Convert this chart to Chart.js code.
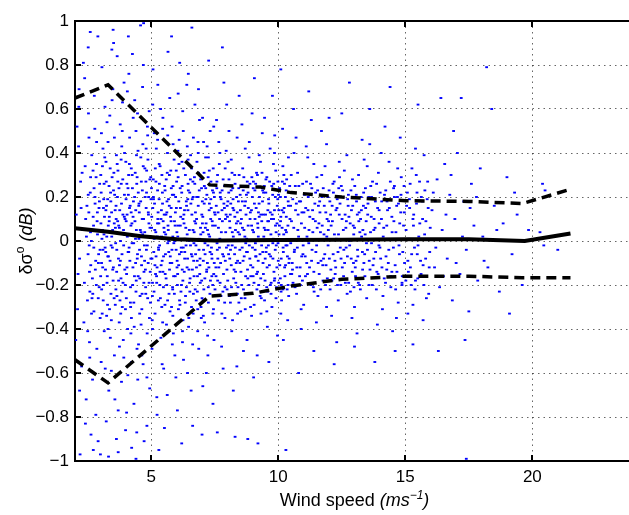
<!DOCTYPE html>
<html>
<head>
<meta charset="utf-8">
<script src="https://cdn.jsdelivr.net/npm/chart.js@4.4.1/dist/chart.umd.min.js"></script>
<style>
  html, body { margin: 0; padding: 0; background: #fff; overflow: hidden; }
  #wrap { width: 640px; height: 515px; }
</style>
</head>
<body>
<div id="wrap"><canvas id="windChart" width="640" height="515"></canvas></div>
<script>
// Axis ticks
const xTicks = [5, 10, 15, 20];
const yTicks = [-1, -0.8, -0.6, -0.4, -0.2, 0, 0.2, 0.4, 0.6, 0.8, 1];
const yTickLabels = ['\u22121', '\u22120.8', '\u22120.6', '\u22120.4', '\u22120.2', '0', '0.2', '0.4', '0.6', '0.8', '1'];

// Binned mean of the bias and its spread envelope
const meanWind = [2, 3.3, 4.6, 6, 7.5, 10, 12.5, 15, 17.5, 19.7, 21.5];
const meanBias = [0.058, 0.042, 0.022, 0.008, 0.002, 0.004, 0.006, 0.008, 0.008, 0.0, 0.034];
const upperWind = [2, 3.3, 7.3, 9.3, 10.5, 12.5, 15, 17.5, 19.6, 21.5];
const upperBias = [0.65, 0.71, 0.255, 0.245, 0.22, 0.2, 0.183, 0.18, 0.17, 0.235];
const lowerWind = [2, 3.3, 7.3, 9, 10.5, 12.5, 15, 17.5, 19.6, 21.5];
const lowerBias = [-0.54, -0.645, -0.25, -0.238, -0.205, -0.174, -0.16, -0.16, -0.167, -0.167];

// Individual collocations, grouped by wind speed band [wind, bias]
const band2to3 = [[2.05,0.12],[2.1,-0.31],[2.14,0.43],[2.18,-0.08],[2.22,0.27],[2.26,-0.57],[2.3,0.05],[2.33,0.81],[2.37,-0.19],[2.4,0.34],[2.44,-0.72],[2.47,0.16],[2.5,-0.41],[2.53,0.58],[2.56,-0.02],[2.6,0.22],[2.63,-0.88],[2.66,0.39],[2.7,-0.24],[2.73,0.07],[2.76,0.66],[2.8,-0.13],[2.83,0.29],[2.86,-0.49],[2.9,0.93],[2.93,-0.06],[2.96,0.18],[2.99,-0.35],[2.08,0.52],[2.12,-0.15],[2.2,-0.97],[2.28,0.31],[2.35,-0.37],[2.42,0.1],[2.49,-0.27],[2.55,0.47],[2.62,-0.11],[2.69,-0.63],[2.75,0.24],[2.82,-0.79],[2.88,0.13],[2.95,-0.21],[2.03,-0.45],[2.16,0.69],[2.45,0.02],[2.58,-0.53],[2.78,0.51],[2.91,-0.91],[2.24,0.15],[2.65,-0.33],[2.6,0.95]];
const band3to5 = [[3.02,0.08],[3.05,-0.22],[3.08,0.34],[3.1,-0.04],[3.13,0.19],[3.15,-0.41],[3.18,0.61],[3.2,-0.13],[3.23,0.27],[3.25,0.02],[3.28,-0.29],[3.3,0.45],[3.33,-0.68],[3.35,0.11],[3.38,-0.09],[3.4,0.22],[3.43,-0.36],[3.45,0.87],[3.48,0.05],[3.5,-0.18],[3.53,0.31],[3.55,-0.52],[3.58,0.14],[3.6,-0.01],[3.63,0.39],[3.65,-0.25],[3.68,0.09],[3.7,-0.77],[3.73,0.24],[3.75,-0.11],[3.78,0.53],[3.8,-0.33],[3.83,0.17],[3.85,-0.06],[3.88,0.28],[3.9,-0.45],[3.93,0.72],[3.95,0.03],[3.98,-0.2],[4.0,0.36],[4.03,-0.15],[4.05,0.12],[4.08,-0.61],[4.1,0.21],[4.13,-0.03],[4.15,0.47],[4.18,-0.28],[4.2,0.07],[4.23,-0.94],[4.25,0.3],[4.28,-0.12],[4.3,0.18],[4.33,-0.39],[4.35,0.64],[4.38,0.01],[4.4,-0.23],[4.43,0.26],[4.45,-0.08],[4.48,0.41],[4.5,-0.47],[4.53,0.13],[4.55,-0.17],[4.58,0.98],[4.6,0.04],[4.63,-0.31],[4.65,0.23],[4.68,-0.56],[4.7,0.1],[4.73,-0.02],[4.75,0.33],[4.78,-0.21],[4.8,0.15],[4.83,-0.84],[4.85,0.52],[4.88,-0.1],[4.9,0.2],[4.93,-0.35],[4.95,0.06],[4.98,0.29],
  [3.04,0.49],[3.09,-0.12],[3.14,0.03],[3.19,-0.58],[3.24,0.16],[3.29,-0.07],[3.34,0.25],[3.39,-0.44],[3.44,0.13],[3.49,0.69],[3.54,-0.26],[3.59,0.06],[3.64,-0.14],[3.69,0.32],[3.74,-0.37],[3.79,0.0],[3.84,0.43],[3.89,-0.19],[3.94,0.11],[3.99,-0.86],[4.04,0.26],[4.09,-0.05],[4.14,0.35],[4.19,-0.3],[4.24,0.08],[4.29,0.56],[4.34,-0.16],[4.39,0.14],[4.44,-0.49],[4.49,0.22],[4.54,-0.04],[4.59,0.38],[4.64,-0.24],[4.69,0.8],[4.74,-0.09],[4.79,0.27],[4.84,-0.42],[4.89,0.12],[4.94,-0.67],[4.99,0.19],
  [3.07,-0.33],[3.17,0.38],[3.27,-0.16],[3.37,0.57],[3.47,-0.03],[3.57,-0.72],[3.67,0.2],[3.77,-0.27],[3.87,0.63],[3.97,0.1],[4.07,-0.4],[4.17,0.16],[4.27,-0.2],[4.37,0.31],[4.47,-0.63],[4.57,0.05],[4.67,0.44],[4.77,-0.13],[4.87,0.37],[4.97,-0.28],[3.12,0.15],[3.32,-0.98],[3.52,0.9],[3.72,0.07],[3.92,-0.53],[4.12,0.76],[4.32,-0.74],[4.52,0.17],[4.72,-0.91],[4.92,0.59],
  [3.5,0.96],[4.7,0.99],[4.1,0.93],[3.0,-0.97],[3.7,-0.96],[4.4,-0.99]];
const band5to7 = [[5.02,0.11],[5.05,-0.19],[5.08,0.28],[5.1,-0.05],[5.13,0.17],[5.15,-0.33],[5.18,0.04],[5.2,0.42],[5.23,-0.12],[5.25,0.23],[5.28,-0.27],[5.3,0.08],[5.33,-0.02],[5.35,0.34],[5.38,-0.44],[5.4,0.14],[5.43,-0.09],[5.45,0.51],[5.48,-0.21],[5.5,0.06],[5.53,0.25],[5.55,-0.15],[5.58,0.12],[5.6,-0.38],[5.63,0.31],[5.65,-0.01],[5.68,0.19],[5.7,-0.24],[5.73,0.65],[5.75,-0.07],[5.78,0.09],[5.8,-0.3],[5.83,0.21],[5.85,0.02],[5.88,-0.16],[5.9,0.37],[5.93,-0.52],[5.95,0.13],[5.98,-0.04],[6.0,0.27],
  [6.03,-0.2],[6.05,0.07],[6.08,-0.11],[6.1,0.46],[6.13,-0.29],[6.15,0.15],[6.18,-0.03],[6.2,0.22],[6.23,-0.41],[6.25,0.1],[6.28,0.33],[6.3,-0.14],[6.33,0.01],[6.35,-0.25],[6.38,0.18],[6.4,0.71],[6.43,-0.08],[6.45,0.26],[6.48,-0.35],[6.5,0.05],[6.53,-0.17],[6.55,0.39],[6.58,-0.06],[6.6,0.12],[6.63,-0.47],[6.65,0.2],[6.68,-0.01],[6.7,0.29],[6.73,-0.22],[6.75,0.08],[6.78,-0.12],[6.8,0.36],[6.83,-0.31],[6.85,0.16],[6.88,-0.04],[6.9,0.55],[6.93,-0.19],[6.95,0.03],[6.98,0.24],[7.0,-0.26],
  [7.03,0.11],[7.05,-0.09],[7.08,0.31],[7.1,-0.37],[7.13,0.06],[7.15,0.19],[7.18,-0.14],[7.2,0.43],[7.23,-0.02],[7.25,-0.28],[7.28,0.14],[7.3,0.02],[7.33,-0.18],[7.35,0.27],[7.38,-0.06],[7.4,0.09],[7.43,-0.33],[7.45,0.22],[7.48,-0.1],
  [5.04,-0.36],[5.12,0.49],[5.19,-0.07],[5.27,0.13],[5.34,-0.2],[5.42,0.3],[5.49,-0.58],[5.57,0.03],[5.64,0.4],[5.72,-0.13],[5.79,0.24],[5.87,-0.42],[5.94,0.07],[6.02,-0.09],[6.09,0.35],[6.17,-0.23],[6.24,0.59],[6.32,-0.05],[6.39,0.16],[6.47,-0.39],[6.54,0.28],[6.62,-0.13],[6.69,0.04],[6.77,-0.27],[6.84,0.45],[6.92,-0.08],[6.99,0.12],[7.07,-0.22],[7.14,0.38],[7.22,-0.43],[7.29,0.17],[7.37,-0.03],[7.44,0.33],
  [5.07,0.78],[5.22,-0.71],[5.37,0.6],[5.52,-0.85],[5.67,0.05],[5.82,0.52],[5.97,-0.62],[6.12,0.81],[6.27,-0.54],[6.42,0.43],[6.57,-0.68],[6.72,0.62],[6.87,-0.49],[7.02,0.56],[7.17,-0.6],[7.32,0.5],[7.47,-0.45],
  [5.09,0.19],[5.17,-0.15],[5.24,0.02],[5.32,0.26],[5.39,-0.11],[5.47,0.09],[5.54,-0.29],[5.62,0.18],[5.69,-0.05],[5.77,0.32],[5.84,-0.21],[5.92,0.0],[5.99,0.15],[6.07,-0.31],[6.14,0.24],[6.22,-0.13],[6.29,0.08],[6.37,-0.02],[6.44,0.19],[6.52,-0.23],[6.59,0.33],[6.67,-0.09],[6.74,0.13],[6.82,-0.16],[6.89,0.23],[6.97,-0.35],[7.04,0.04],[7.12,-0.06],[7.19,0.21],[7.27,-0.12],[7.34,0.1],[7.42,-0.2],
  [5.8,0.93],[6.6,0.97],[5.3,-0.95],[6.2,-0.92],[7.0,-0.88]];
const band7to10 = [[7.52,0.07],[7.55,-0.16],[7.58,0.24],[7.6,-0.04],[7.63,0.13],[7.65,-0.27],[7.68,0.35],[7.7,0.01],[7.73,-0.1],[7.75,0.19],[7.78,-0.33],[7.8,0.09],[7.83,0.28],[7.85,-0.07],[7.88,0.15],[7.9,-0.21],[7.93,0.04],[7.95,0.41],[7.98,-0.13],[8.0,0.11],
  [8.03,-0.02],[8.05,0.22],[8.08,-0.25],[8.1,0.06],[8.13,0.17],[8.15,-0.11],[8.18,0.31],[8.2,-0.36],[8.23,0.02],[8.25,0.14],[8.28,-0.06],[8.3,0.26],[8.33,-0.19],[8.35,0.08],[8.38,0.47],[8.4,-0.09],[8.43,0.18],[8.45,-0.28],[8.48,0.03],[8.5,0.21],
  [8.53,-0.14],[8.55,0.1],[8.58,-0.03],[8.6,0.33],[8.63,-0.22],[8.65,0.05],[8.68,0.16],[8.7,-0.31],[8.73,0.12],[8.75,-0.05],[8.78,0.27],[8.8,-0.17],[8.83,0.0],[8.85,0.38],[8.88,-0.08],[8.9,0.13],[8.93,-0.24],[8.95,0.07],[8.98,0.2],[9.0,-0.12],
  [9.03,0.04],[9.05,-0.29],[9.08,0.23],[9.1,-0.01],[9.13,0.15],[9.15,-0.15],[9.18,0.3],[9.2,0.06],[9.23,-0.2],[9.25,0.11],[9.28,-0.06],[9.3,0.36],[9.33,-0.26],[9.35,0.09],[9.38,0.18],[9.4,-0.1],[9.43,0.02],[9.45,0.25],[9.48,-0.18],[9.5,0.12],
  [9.53,-0.03],[9.55,0.29],[9.58,-0.23],[9.6,0.05],[9.63,0.17],[9.65,-0.11],[9.68,0.42],[9.7,-0.07],[9.73,0.1],[9.75,-0.3],[9.78,0.21],[9.8,0.01],[9.83,-0.14],[9.85,0.14],[9.88,-0.04],[9.9,0.32],[9.93,-0.21],[9.95,0.08],[9.98,0.19],[10.0,-0.09],
  [10.03,0.03],[10.05,0.24],[10.08,-0.17],[10.1,0.11],[10.13,-0.27],[10.15,0.06],[10.18,0.34],[10.2,-0.05],[10.23,0.15],[10.25,-0.12],[10.28,0.2],[10.3,-0.02],[10.33,0.28],[10.35,-0.22],[10.38,0.07],[10.4,0.16],[10.43,-0.08],[10.45,0.25],[10.48,-0.15],
  [7.57,0.55],[7.77,-0.48],[7.97,0.62],[8.17,-0.41],[8.37,-0.57],[8.57,0.53],[8.77,-0.45],[8.97,0.58],[9.17,-0.52],[9.37,0.49],[9.57,-0.39],[9.77,0.66],[9.97,-0.43],[10.17,0.51],[10.37,-0.36],
  [7.62,-0.08],[7.72,0.2],[7.82,-0.23],[7.92,0.1],[8.02,0.36],[8.12,-0.04],[8.22,0.19],[8.32,-0.14],[8.42,0.04],[8.52,-0.32],[8.62,0.23],[8.72,-0.01],[8.82,0.15],[8.92,-0.16],[9.02,0.27],[9.12,-0.07],[9.22,0.13],[9.32,-0.33],[9.42,0.22],[9.52,-0.05],[9.62,0.09],[9.72,-0.19],[9.82,0.26],[9.92,-0.02],[10.02,0.14],[10.12,-0.2],[10.22,0.3],[10.32,0.04],[10.42,-0.1],
  [7.8,0.88],[7.6,-0.87],[8.3,-0.89],[8.8,-0.9],[9.2,-0.92],[10.3,-0.95]];
const band10to13 = [[10.52,0.09],[10.56,-0.13],[10.6,0.22],[10.64,-0.04],[10.68,0.14],[10.72,-0.24],[10.76,0.31],[10.8,0.02],[10.84,-0.16],[10.88,0.18],[10.92,-0.07],[10.96,0.26],[11.0,-0.29],[11.04,0.06],[11.08,0.15],[11.12,-0.1],[11.16,0.38],[11.2,-0.01],[11.24,0.11],[11.28,-0.2],[11.32,0.24],[11.36,0.04],[11.4,-0.14],[11.44,0.17],[11.48,-0.05],[11.52,0.29],[11.56,-0.25],[11.6,0.08],[11.64,0.13],[11.68,-0.09],[11.72,0.2],[11.76,-0.18],[11.8,0.03],[11.84,0.34],[11.88,-0.11],[11.92,0.1],[11.96,-0.02],[12.0,0.23],[12.04,-0.22],[12.08,0.07],[12.12,0.16],[12.16,-0.06],[12.2,0.27],[12.24,-0.15],[12.28,0.01],[12.32,0.19],[12.36,-0.27],[12.4,0.12],[12.44,-0.03],[12.48,0.25],[12.52,-0.12],[12.56,0.05],[12.6,0.32],[12.64,-0.19],[12.68,0.09],[12.72,-0.07],[12.76,0.21],[12.8,0.0],[12.84,-0.23],[12.88,0.14],[12.92,0.28],[12.96,-0.1],[13.0,0.06],[13.04,-0.16],[13.08,0.18],[13.12,-0.04],[13.16,0.3],[13.2,-0.2],[13.24,0.1],[13.28,0.02],[13.32,-0.13],[13.36,0.22],[13.4,-0.06],[13.44,0.15],[13.48,-0.26],
  [10.7,0.47],[10.9,-0.4],[11.3,0.55],[11.5,-0.37],[11.9,0.44],[12.3,-0.46],[12.5,0.58],[12.9,-0.35],[13.3,0.46],[13.1,-0.42],[10.62,0.4],[11.1,0.43],[11.7,0.5],[12.1,-0.34],[12.7,0.39],[13.38,0.37],
  [10.58,-0.19],[10.78,0.12],[10.98,-0.02],[11.18,0.2],[11.38,-0.21],[11.58,0.16],[11.78,-0.08],[11.98,0.09],[12.18,-0.17],[12.38,0.24],[12.58,-0.04],[12.78,0.11],[12.98,-0.21],[13.18,0.13],[13.42,0.03]];
const band13to16 = [[13.52,0.12],[13.58,-0.09],[13.64,0.25],[13.7,-0.2],[13.76,0.05],[13.82,0.18],[13.88,-0.14],[13.94,0.31],[14.0,-0.03],[14.06,0.1],[14.12,-0.25],[14.18,0.21],[14.24,-0.07],[14.3,0.14],[14.36,0.36],[14.42,-0.16],[14.48,0.04],[14.54,0.24],[14.6,-0.11],[14.66,0.16],[14.72,-0.28],[14.78,0.08],[14.84,0.29],[14.9,-0.05],[14.96,0.13],[15.02,-0.18],[15.08,0.22],[15.14,0.01],[15.2,-0.12],[15.26,0.33],[15.32,0.07],[15.38,-0.22],[15.44,0.17],[15.5,-0.02],[15.56,0.27],[15.62,-0.15],[15.68,0.1],[15.74,0.39],[15.8,-0.08],[15.86,0.19],[15.92,-0.24],[15.98,0.06],
  [13.6,0.44],[13.9,-0.38],[14.2,0.52],[14.5,-0.41],[14.8,0.47],[15.1,-0.33],[15.4,0.42],[15.5,0.62],[15.7,-0.36],[14.05,0.4],[14.65,-0.35],
  [13.67,-0.01],[13.97,0.08],[14.27,-0.13],[14.57,0.2],[14.87,-0.19],[15.17,0.15],[15.47,-0.06],[15.77,0.23]];
const band16to21 = [[16.05,0.14],[16.15,-0.12],[16.25,0.28],[16.35,-0.21],[16.4,0.65],[16.45,0.05],[16.55,0.35],[16.65,-0.08],[16.75,0.21],[16.85,-0.27],[16.95,0.1],[17.05,0.4],[17.15,-0.15],[17.2,0.65],[17.3,0.18],[17.4,-0.04],[17.5,-0.32],[17.6,0.26],[17.7,0.07],[17.85,-0.18],[17.95,0.33],[18.05,0.02],[18.2,0.79],[18.25,-0.12],[18.4,0.6],[18.5,0.16],[18.7,-0.23],[18.85,0.08],[19.0,0.29],[19.2,-0.06],[19.4,0.12],[19.6,-0.2],[19.85,0.05],[16.3,-0.5],[16.9,0.5],[17.35,-0.45],[19.1,-0.33],
  [20.3,0.04],[20.45,-0.02],[20.4,0.26],[20.5,0.23],[21.0,-0.04],[17.4,-0.99]];

// Densest part of the cloud, near zero bias
const core2to8 = [[2.52,0.21],[2.57,-0.14],[2.61,0.04],[2.67,-0.26],[2.71,0.32],[2.74,-0.03],[2.79,0.17],[2.84,-0.2],[2.87,0.09],[2.92,-0.1],[2.97,0.26],
  [3.01,-0.16],[3.03,0.22],[3.06,0.01],[3.11,-0.27],[3.16,0.11],[3.21,-0.05],[3.22,0.36],[3.26,-0.19],[3.31,0.07],[3.36,-0.31],[3.41,0.18],[3.42,-0.02],[3.46,0.29],[3.51,-0.12],[3.56,0.21],[3.61,-0.22],[3.62,0.1],[3.66,0.35],[3.71,-0.08],[3.76,0.14],[3.81,-0.17],[3.82,0.26],[3.86,-0.3],[3.91,0.05],[3.96,-0.13],[4.01,0.19],[4.02,-0.26],[4.06,0.02],[4.11,0.3],[4.16,-0.09],[4.21,0.13],[4.22,-0.35],[4.26,0.24],[4.31,-0.01],[4.36,0.09],[4.41,-0.18],[4.42,0.39],[4.46,-0.06],[4.51,0.16],[4.56,-0.25],[4.61,0.27],[4.62,-0.11],[4.66,0.03],[4.71,-0.19],[4.76,0.2],[4.81,-0.04],[4.82,0.32],[4.86,-0.26],[4.91,0.08],[4.96,-0.14],
  [5.01,0.24],[5.03,-0.08],[5.06,0.15],[5.11,-0.23],[5.14,0.05],[5.16,0.33],[5.21,-0.16],[5.26,0.1],[5.29,-0.04],[5.31,0.19],[5.36,-0.26],[5.41,0.02],[5.44,0.22],[5.46,-0.14],[5.51,0.12],[5.56,-0.06],[5.59,0.28],[5.61,-0.2],[5.66,0.07],[5.71,0.16],[5.74,-0.32],[5.76,0.11],[5.81,-0.1],[5.86,0.25],[5.89,-0.01],[5.91,-0.24],[5.96,0.2],[6.01,0.04],[6.04,-0.15],[6.06,0.29],[6.11,-0.06],[6.16,0.11],[6.19,-0.2],[6.21,0.36],[6.26,-0.03],[6.31,0.14],[6.34,-0.28],[6.36,0.06],[6.41,-0.12],[6.46,0.23],[6.49,0.0],[6.51,-0.19],[6.56,0.17],[6.61,-0.07],[6.64,0.27],[6.66,-0.24],[6.71,0.09],[6.76,-0.02],[6.79,0.2],[6.81,-0.09],[6.86,0.31],[6.91,-0.15],[6.94,0.06],[6.96,-0.3],[7.01,0.18],[7.06,-0.04],[7.09,0.25],[7.11,-0.17],[7.16,0.08],[7.21,-0.1],[7.24,0.29],[7.26,0.03],[7.31,-0.24],[7.36,0.15],[7.39,-0.08],[7.41,0.23],[7.46,-0.15],[7.49,0.13],
  [7.51,-0.22],[7.56,0.16],[7.59,-0.01],[7.61,0.3],[7.66,-0.12],[7.69,0.1],[7.71,-0.19],[7.76,0.04],[7.79,0.23],[7.81,-0.06],[7.86,0.17],[7.89,-0.28],[7.91,0.33],[7.96,-0.03],[7.99,0.16]];
const core2to8b = [[2.515,-0.06],[2.545,0.13],[2.585,-0.23],[2.615,0.29],[2.645,0.0],[2.685,-0.17],[2.715,0.11],[2.745,-0.32],[2.785,0.2],[2.815,-0.09],[2.845,0.35],[2.885,0.03],[2.915,-0.26],[2.945,0.15],[2.985,-0.04],
  [3.015,0.3],[3.045,-0.1],[3.085,0.05],[3.115,-0.2],[3.145,0.26],[3.185,-0.03],[3.215,0.14],[3.245,-0.34],[3.285,0.19],[3.315,-0.07],[3.345,0.09],[3.385,0.33],[3.415,-0.24],[3.445,0.02],[3.485,-0.13],[3.515,0.23],[3.545,0.08],[3.585,-0.29],[3.615,0.16],[3.645,-0.04],[3.685,0.27],[3.715,-0.18],[3.745,0.06],[3.785,-0.09],[3.815,0.37],[3.845,-0.23],[3.885,0.12],[3.915,-0.02],[3.945,0.21],[3.985,-0.31],
  [4.015,0.09],[4.045,-0.12],[4.085,0.24],[4.115,-0.05],[4.145,0.15],[4.185,-0.21],[4.215,0.33],[4.245,-0.01],[4.285,0.11],[4.315,-0.28],[4.345,0.2],[4.385,-0.1],[4.415,0.05],[4.445,0.29],[4.485,-0.16],[4.515,0.01],[4.545,-0.33],[4.585,0.18],[4.615,-0.07],[4.645,0.1],[4.685,0.34],[4.715,-0.14],[4.745,0.04],[4.785,-0.24],[4.815,0.22],[4.845,-0.02],[4.885,0.13],[4.915,-0.19],[4.945,0.28],[4.985,-0.08],
  [5.015,0.06],[5.045,-0.25],[5.085,0.2],[5.115,0.01],[5.145,-0.11],[5.185,0.27],[5.215,-0.19],[5.245,0.08],[5.285,-0.03],[5.315,0.35],[5.345,-0.14],[5.385,0.1],[5.415,-0.3],[5.445,0.17],[5.485,-0.07],[5.515,0.04],[5.545,0.23],[5.585,-0.17],[5.615,0.13],[5.645,-0.27],[5.685,0.0],[5.715,0.3],[5.745,-0.1],[5.785,0.15],[5.815,-0.04],[5.845,-0.22],[5.885,0.21],[5.915,0.09],[5.945,-0.16],[5.985,0.32],
  [6.015,-0.12],[6.045,0.02],[6.085,0.18],[6.115,-0.27],[6.145,0.07],[6.185,-0.05],[6.215,0.25],[6.245,-0.18],[6.285,0.12],[6.315,-0.08],[6.345,0.3],[6.385,-0.21],[6.415,0.03],[6.445,0.14],[6.485,-0.13],[6.515,0.22],[6.545,-0.02],[6.585,-0.3],[6.615,0.19],[6.645,0.05],[6.685,-0.16],[6.715,0.26],[6.745,-0.06],[6.785,0.1],[6.815,-0.23],[6.845,0.2],[6.885,0.01],[6.915,-0.11],[6.945,0.28],[6.985,-0.18],
  [7.015,0.08],[7.045,-0.27],[7.085,0.17],[7.115,-0.01],[7.145,0.24],[7.185,-0.13],[7.215,0.05],[7.245,-0.21],[7.285,0.32],[7.315,-0.05],[7.345,0.19],[7.385,-0.16],[7.415,0.07],[7.445,-0.25],[7.485,0.2]];
const core8to14 = [[8.01,-0.18],[8.06,0.28],[8.09,-0.08],[8.11,0.12],[8.16,-0.21],[8.19,0.04],[8.21,0.24],[8.26,-0.13],[8.29,0.11],[8.31,-0.03],[8.36,0.2],[8.39,-0.24],[8.41,0.09],[8.46,0.3],[8.49,-0.1],[8.51,0.14],[8.56,-0.2],[8.59,0.06],[8.61,0.25],[8.66,-0.07],[8.69,-0.26],[8.71,0.18],[8.76,0.01],[8.79,-0.13],[8.81,0.22],[8.86,-0.02],[8.89,0.1],[8.91,-0.3],[8.96,0.29],[8.99,0.05],
  [9.01,-0.16],[9.06,0.17],[9.09,-0.04],[9.11,0.26],[9.16,-0.22],[9.19,0.08],[9.21,-0.09],[9.26,0.2],[9.29,0.0],[9.31,-0.17],[9.36,0.31],[9.39,-0.05],[9.41,0.12],[9.46,-0.27],[9.49,0.05],[9.51,0.22],[9.56,-0.12],[9.59,0.14],[9.61,-0.02],[9.66,0.27],[9.69,-0.2],[9.71,0.03],[9.76,0.12],[9.79,-0.08],[9.81,0.35],[9.86,-0.17],[9.89,0.07],[9.91,-0.26],[9.96,0.16],[9.99,-0.01],
  [10.01,0.21],[10.06,-0.11],[10.09,0.09],[10.11,-0.23],[10.16,0.27],[10.19,-0.03],[10.21,0.13],[10.26,-0.16],[10.29,0.05],[10.31,0.23],[10.36,-0.07],[10.39,0.18],[10.41,-0.25],[10.46,0.1],[10.49,-0.01],[10.51,0.3],[10.55,-0.1],[10.61,0.06],[10.66,-0.21],[10.71,0.17],[10.75,-0.03],[10.81,0.25],[10.86,-0.12],[10.91,0.08],[10.95,-0.18],
  [11.01,0.13],[11.06,-0.07],[11.11,0.27],[11.15,-0.15],[11.21,0.05],[11.26,0.21],[11.31,-0.09],[11.35,0.14],[11.41,-0.23],[11.46,0.09],[11.51,-0.02],[11.55,0.23],[11.61,-0.15],[11.66,0.04],[11.71,0.3],[11.75,-0.11],[11.81,0.16],[11.86,-0.2],[11.91,0.02],[11.95,0.2],
  [12.01,-0.08],[12.06,0.12],[12.11,-0.18],[12.15,0.26],[12.21,0.03],[12.26,-0.12],[12.31,0.15],[12.35,-0.05],[12.41,0.29],[12.46,-0.2],[12.51,0.1],[12.55,0.2],[12.61,-0.1],[12.66,0.06],[12.71,-0.24],[12.75,0.16],[12.81,-0.02],[12.86,0.23],[12.91,-0.14],[12.95,0.07],
  [13.01,0.25],[13.06,-0.09],[13.11,0.12],[13.15,-0.19],[13.21,0.04],[13.26,0.2],[13.31,-0.05],[13.35,0.16],[13.41,-0.16],[13.46,0.09],[13.51,-0.04],[13.56,0.2],[13.61,-0.13],[13.66,0.11],[13.71,0.27],[13.76,-0.08],[13.81,0.06],[13.86,-0.22],[13.91,0.15],[13.96,-0.02]];
const core8to14b = [[7.515,0.12],[7.545,-0.12],[7.585,0.27],[7.615,-0.18],[7.645,0.06],[7.685,-0.03],[7.715,0.22],[7.745,-0.25],[7.785,0.14],[7.815,0.0],[7.845,-0.15],[7.885,0.25],[7.915,-0.09],[7.945,0.12],[7.985,-0.22],
  [8.015,0.18],[8.045,-0.06],[8.085,0.09],[8.115,-0.28],[8.145,0.23],[8.185,-0.02],[8.215,0.15],[8.245,-0.17],[8.285,0.3],[8.315,0.05],[8.345,-0.1],[8.385,0.13],[8.415,-0.21],[8.445,0.24],[8.485,-0.04],[8.515,0.08],[8.545,-0.26],[8.585,0.18],[8.615,-0.09],[8.645,0.29],[8.685,0.02],[8.715,-0.16],[8.745,0.21],[8.785,-0.05],[8.815,0.07],[8.845,-0.2],[8.885,0.26],[8.915,-0.11],[8.945,0.14],[8.985,-0.03],
  [9.015,0.24],[9.045,-0.19],[9.085,0.1],[9.115,-0.07],[9.145,0.31],[9.185,-0.14],[9.215,0.02],[9.245,0.17],[9.285,-0.25],[9.315,0.12],[9.345,-0.02],[9.385,0.23],[9.415,-0.15],[9.445,0.06],[9.485,-0.08],[9.515,0.28],[9.545,-0.21],[9.585,0.09],[9.615,0.19],[9.645,-0.06],[9.685,0.13],[9.715,-0.24],[9.745,0.25],[9.785,-0.01],[9.815,0.1],[9.845,-0.18],[9.885,0.2],[9.915,0.04],[9.945,-0.12],[9.985,0.27],
  [10.015,-0.19],[10.045,0.07],[10.085,0.2],[10.115,-0.08],[10.145,0.14],[10.185,-0.22],[10.215,0.03],[10.245,0.26],[10.285,-0.11],[10.315,0.11],[10.345,-0.02],[10.385,-0.2],[10.415,0.22],[10.445,0.0],[10.485,0.16],
  [10.53,-0.15],[10.57,0.19],[10.63,-0.05],[10.67,0.25],[10.73,-0.12],[10.77,0.05],[10.83,0.18],[10.87,-0.2],[10.93,0.13],[10.97,-0.06],[11.03,0.21],[11.07,-0.16],[11.13,0.02],[11.17,0.14],[11.23,-0.12],[11.27,0.26],[11.33,-0.04],[11.37,0.1],[11.43,-0.19],[11.47,0.22],[11.53,0.06],[11.57,-0.1],[11.63,0.18],[11.67,-0.22],[11.73,0.07],[11.77,0.24],[11.83,-0.06],[11.87,0.13],[11.93,-0.17],[11.97,0.05],
  [12.03,0.18],[12.07,-0.13],[12.13,0.09],[12.17,0.22],[12.23,-0.09],[12.27,0.14],[12.33,-0.2],[12.37,0.03],[12.43,0.17],[12.47,-0.08],[12.53,0.23],[12.57,-0.16],[12.63,0.12],[12.67,-0.03],[12.73,0.19],[12.77,-0.19],[12.83,0.08],[12.87,-0.08],[12.93,0.16],[12.97,0.03],
  [13.03,-0.12],[13.07,0.21],[13.13,-0.07],[13.17,0.09],[13.23,-0.22],[13.27,0.14],[13.33,0.05],[13.37,-0.1],[13.43,0.24],[13.47,-0.01],[13.53,0.17],[13.57,-0.2],[13.63,0.04],[13.67,0.2],[13.73,-0.11],[13.77,0.1],[13.83,-0.05],[13.87,0.26],[13.93,-0.15],[13.97,0.14]];
const core14to20 = [[14.01,0.22],[14.08,-0.12],[14.15,0.06],[14.22,-0.19],[14.28,0.18],[14.35,-0.04],[14.41,0.27],[14.47,-0.14],[14.55,0.09],[14.62,-0.22],[14.69,0.2],[14.75,-0.02],[14.82,0.13],[14.88,-0.16],[14.95,0.25],[15.03,0.05],[15.1,-0.09],[15.16,0.19],[15.23,-0.2],[15.3,0.1],[15.36,-0.03],[15.43,0.3],[15.49,-0.17],[15.57,0.08],[15.63,0.2],[15.7,-0.11],[15.76,0.03],[15.83,-0.26],[15.9,0.15],[15.96,-0.05],
  [14.03,-0.08],[14.07,0.18],[14.13,0.02],[14.17,-0.17],[14.23,0.23],[14.27,0.07],[14.33,-0.1],[14.37,0.15],[14.43,-0.21],[14.47,0.11],[14.53,-0.03],[14.57,0.25],[14.63,0.04],[14.67,-0.14],[14.73,0.17],[14.77,-0.06],[14.83,0.21],[14.87,-0.2],[14.93,0.07],[14.97,-0.1],[15.05,0.16],[15.12,-0.14],[15.19,0.26],[15.25,-0.06],[15.33,0.12],[15.4,-0.18],[15.46,0.22],[15.53,0.02],[15.6,-0.09],[15.67,0.18],[15.73,-0.2],[15.81,0.09],[15.88,0.27],[15.94,-0.12],
  [16.1,0.22],[16.2,-0.03],[16.5,-0.16],[16.6,0.12],[16.8,0.3],[17.0,-0.1],[17.25,0.02],[17.55,0.15],[17.8,0.2],[18.1,-0.09],[18.6,0.05],[19.3,0.22]];

// Sparse points further from zero bias
const midSpread = [[3.1,0.42],[3.3,-0.4],[3.55,0.47],[3.75,-0.48],[3.95,0.4],[4.2,-0.42],[4.4,0.5],[4.6,-0.38],[4.8,0.42],[5.05,-0.4],[5.25,0.46],[5.45,-0.37],[5.65,0.48],[5.85,-0.34],[6.05,0.41],[6.25,-0.36],[6.45,0.37],[6.65,-0.33],[6.85,0.4],[7.05,-0.34],[7.25,0.38],[7.45,-0.31],[7.7,0.4],[7.9,-0.35],[8.15,0.37],[8.4,-0.33],[8.7,0.42],[8.95,-0.34],[9.25,0.39],[9.55,-0.32],[9.85,0.4],[10.1,-0.33],[10.4,0.38],[10.9,-0.31],[11.4,0.35],[11.9,-0.3],[12.4,0.36],[13.0,-0.3],[13.5,0.34],[14.1,-0.31],[14.7,0.33],[15.3,-0.29]];
const farHigh = [[2.15,0.61],[2.38,0.74],[2.52,0.88],[2.85,0.45],[3.06,0.79],[3.26,0.54],[3.46,0.64],[3.66,0.84],[3.86,0.5],[4.06,0.68],[4.26,0.85],[4.46,0.58],[4.66,0.7],[4.86,0.48],[5.06,0.62],[5.26,0.71],[5.46,0.56],[5.66,0.86],[5.86,0.44],[6.06,0.67],[6.26,0.5],[6.46,0.76],[6.66,0.47],[6.86,0.69],[7.06,0.45],[7.26,0.82],[7.46,0.52],[7.66,0.45],[7.86,0.72],[8.06,0.5],[8.46,0.66],[8.86,0.45],[9.06,0.74],[9.46,0.56],[9.86,0.48],[10.1,0.78],[10.6,0.6],[11.2,0.68],[12.0,0.56],[12.8,0.72],[13.6,0.6],[14.4,0.7]];
const farLow = [[2.18,-0.68],[2.41,-0.83],[2.57,-0.46],[2.72,-0.95],[3.03,-0.55],[3.23,-0.82],[3.43,-0.59],[3.63,-0.9],[3.83,-0.64],[4.03,-0.78],[4.23,-0.55],[4.43,-0.87],[4.63,-0.52],[4.83,-0.62],[5.03,-0.49],[5.23,-0.79],[5.43,-0.56],[5.63,-0.7],[5.83,-0.47],[6.03,-0.77],[6.23,-0.46],[6.43,-0.6],[6.63,-0.84],[6.83,-0.41],[7.03,-0.66],[7.23,-0.52],[7.43,-0.74],[7.83,-0.58],[8.23,-0.68],[8.63,-0.5],[9.03,-0.62],[9.63,-0.55],[10.2,-0.45],[10.8,-0.6],[11.4,-0.5],[12.2,-0.56],[13.0,-0.48],[13.8,-0.55],[14.6,-0.5],[15.3,-0.47]];

const scatterBands = [band2to3, band3to5, band5to7, band7to10, band10to13, band13to16, band16to21,
    core2to8, core2to8b, core8to14, core8to14b, core14to20, midSpread, farHigh, farLow];

const fontFamily = "'Liberation Sans', Arial, Helvetica, sans-serif";

function toPoints(xs, ys) {
    return xs.map((x, i) => ({ x: x, y: ys[i] }));
}

// Draw a run of differently styled text pieces centred on (0, 0)
function drawRuns(ctx, runs) {
    let total = 0;
    runs.forEach(r => { ctx.font = r.font; r.w = ctx.measureText(r.text).width; total += r.w; });
    let x = -total / 2;
    runs.forEach(r => {
        ctx.font = r.font;
        ctx.fillText(r.text, x, r.dy || 0);
        x += r.w;
    });
}

// Top frame, inward tick marks and the axis titles
const frameAndTitles = {
    id: 'frameAndTitles',
    afterDraw(chart) {
        const { ctx, chartArea: a, scales: { x, y } } = chart;
        ctx.save();
        ctx.strokeStyle = '#000';
        ctx.lineWidth = 2;
        ctx.beginPath();
        ctx.moveTo(a.left - 1, a.top);
        ctx.lineTo(a.right, a.top);
        xTicks.forEach(v => {
            const px = Math.round(x.getPixelForValue(v));
            ctx.moveTo(px, a.bottom);
            ctx.lineTo(px, a.bottom - 6);
            ctx.moveTo(px, a.top);
            ctx.lineTo(px, a.top + 6);
        });
        yTicks.forEach(v => {
            const py = Math.round(y.getPixelForValue(v));
            ctx.moveTo(a.left, py);
            ctx.lineTo(a.left + 6, py);
        });
        ctx.stroke();

        ctx.fillStyle = '#000';
        ctx.textBaseline = 'alphabetic';
        ctx.textAlign = 'left';

        ctx.save();
        ctx.translate((a.left + 634) / 2, 506);
        drawRuns(ctx, [
            { text: 'Wind speed ', font: '18px ' + fontFamily },
            { text: '(ms', font: 'italic 18px ' + fontFamily },
            { text: '\u22121', font: 'italic 12px ' + fontFamily, dy: -7 },
            { text: ')', font: 'italic 18px ' + fontFamily }
        ]);
        ctx.restore();

        ctx.save();
        ctx.translate(32, (a.top + a.bottom) / 2);
        ctx.rotate(-Math.PI / 2);
        drawRuns(ctx, [
            { text: '\u03b4\u03c3', font: '18px ' + fontFamily },
            { text: 'o', font: '12px ' + fontFamily, dy: -8 },
            { text: ' (dB)', font: 'italic 18px ' + fontFamily }
        ]);
        ctx.restore();
        ctx.restore();
    }
};

const lineStyle = {
    showLine: true,
    pointRadius: 0,
    borderColor: '#000',
    tension: 0,
    fill: false
};

const datasets = [
    Object.assign({ label: 'Mean', data: toPoints(meanWind, meanBias), borderWidth: 4 }, lineStyle),
    Object.assign({ label: 'Upper', data: toPoints(upperWind, upperBias), borderWidth: 3.5, borderDash: [10, 6] }, lineStyle),
    Object.assign({ label: 'Lower', data: toPoints(lowerWind, lowerBias), borderWidth: 3.5, borderDash: [10, 6] }, lineStyle),
    {
        label: 'Collocations',
        data: scatterBands.flat().map(p => ({ x: p[0], y: p[1] })),
        pointStyle: 'line',
        pointRadius: 1.4,
        borderWidth: 1.9,
        borderColor: '#0000ff',
        backgroundColor: '#0000ff',
        showLine: false
    }
];

new Chart(document.getElementById('windChart'), {
    type: 'scatter',
    data: { datasets: datasets },
    options: {
        responsive: false,
        animation: false,
        events: [],
        layout: { padding: { top: 21, right: 6, left: 0, bottom: 0 } },
        plugins: {
            legend: { display: false },
            tooltip: { enabled: false }
        },
        scales: {
            x: {
                type: 'linear',
                min: 2,
                max: 24,
                afterBuildTicks: axis => { axis.ticks = xTicks.map(v => ({ value: v })); },
                afterFit: scale => { scale.height = 54; },
                ticks: {
                    color: '#000',
                    padding: 6,
                    maxRotation: 0,
                    font: { family: fontFamily, size: 17 }
                },
                grid: { color: 'rgba(0,0,0,0.6)', lineWidth: 1, drawTicks: false },
                border: { display: true, color: '#000', width: 2, dash: [1.5, 4] }
            },
            y: {
                type: 'linear',
                min: -1,
                max: 1,
                afterBuildTicks: axis => { axis.ticks = yTicks.map(v => ({ value: v })); },
                afterFit: scale => { scale.width = 75; },
                ticks: {
                    color: '#000',
                    padding: 6,
                    font: { family: fontFamily, size: 17 },
                    callback: (value, index) => yTickLabels[index]
                },
                grid: { color: 'rgba(0,0,0,0.6)', lineWidth: 1, drawTicks: false },
                border: { display: true, color: '#000', width: 2, dash: [1.5, 4] }
            }
        }
    },
    plugins: [frameAndTitles]
});
</script>
</body>
</html>
